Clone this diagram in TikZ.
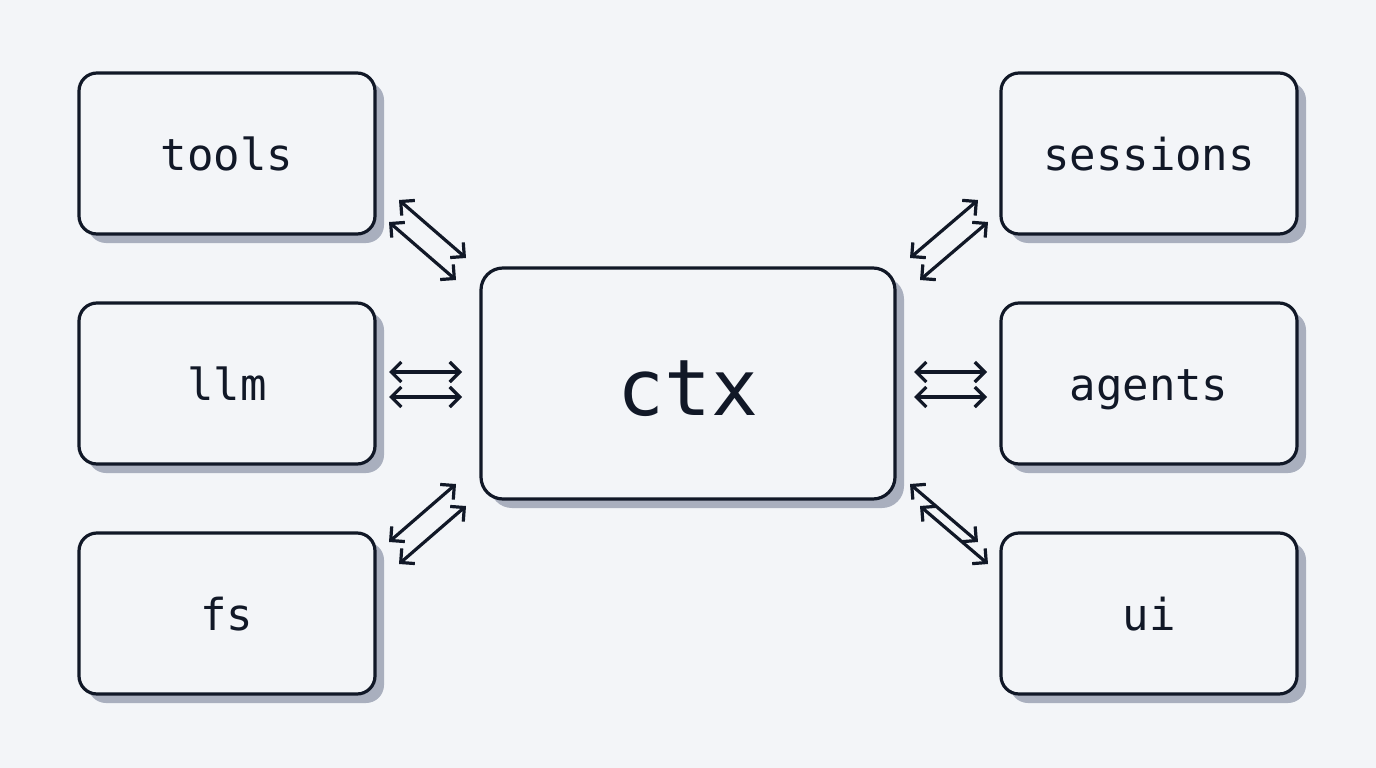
\documentclass[tikz,border=0pt]{standalone}
\usepackage{fontspec}
\setmonofont{DejaVu Sans Mono}
\usetikzlibrary{arrows.meta}
\definecolor{bg}{HTML}{F3F5F8}
\definecolor{ink}{HTML}{111827}
\definecolor{shad}{HTML}{A9AFBE}
\begin{document}
\begin{tikzpicture}[x=1pt,y=-1pt,
  box/.style={draw=ink,line width=3.2pt,rounded corners=18pt,fill=bg,minimum width=296pt,minimum height=161pt,font=\ttfamily\fontsize{44}{46}\selectfont,text=ink,text height=33pt,text depth=0pt},
  shbox/.style={fill=shad,rounded corners=18pt,minimum width=296pt,minimum height=161pt},
  dbl/.style={draw=ink,line width=3.2pt,{Straight Barb[length=10pt,width=20pt]}-{Straight Barb[length=10pt,width=20pt]}}]
\fill[bg] (0,0) rectangle (1376,768);
\useasboundingbox (0,0) rectangle (1376,768);
\foreach \x/\y in {227/153.5,227/383.5,227/613.5,1149/153.5,1149/383.5,1149/613.5}
  \node[shbox] at (\x+9,\y+9) {};
\node[fill=shad,rounded corners=22pt,minimum width=414pt,minimum height=231pt] at (697,392.5) {};
\node[box] (tools) at (227,153.5) {tools};
\node[box] (llm) at (227,383.5) {llm};
\node[box] (fs) at (227,613.5) {fs};
\node[box] (sessions) at (1149,153.5) {sessions};
\node[box] (agents) at (1149,383.5) {agents};
\node[box] (ui) at (1149,613.5) {ui};
\node[box,rounded corners=22pt,minimum width=414pt,minimum height=231pt,font=\ttfamily\fontsize{78}{80}\selectfont,text height=63pt,text depth=0pt] (ctx) at (688,383.5) {ctx};
% arrow endpoints
\coordinate (a1) at (399,200); \coordinate (b1) at (466,258);
\coordinate (a2) at (389,222); \coordinate (b2) at (456,280);
\coordinate (a3) at (389,372); \coordinate (b3) at (462,372);
\coordinate (a4) at (389,397); \coordinate (b4) at (462,397);
\coordinate (a5) at (456,484); \coordinate (b5) at (389,542);
\coordinate (a6) at (466,506); \coordinate (b6) at (399,564);
\coordinate (c1) at (978,200); \coordinate (d1) at (910,258);
\coordinate (c2) at (988,222); \coordinate (d2) at (920,280);
\coordinate (c3) at (914,372); \coordinate (d3) at (987,372);
\coordinate (c4) at (914,397); \coordinate (d4) at (987,397);
\coordinate (c5) at (910,484); \coordinate (d5) at (978,542);
\coordinate (c6) at (920,506); \coordinate (d6) at (988,564);
\foreach \i in {1,...,6}{\draw[dbl] (a\i) -- (b\i); \draw[dbl] (c\i) -- (d\i);}
\end{tikzpicture}
\end{document}
